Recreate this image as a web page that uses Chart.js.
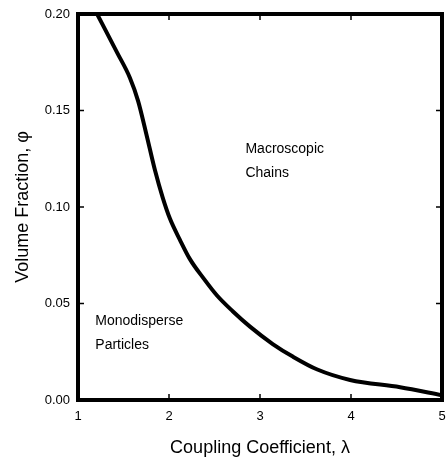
<!DOCTYPE html>
<html lang="en">
<head>
    <meta charset="UTF-8">
    <title>Volume Fraction vs Coupling Coefficient</title>
    <script src="https://cdn.jsdelivr.net/npm/chart.js"></script>
    <style>
        html, body { margin: 0; padding: 0; background: #fff; }
        #wrap { width: 447px; height: 463px; }
    </style>
</head>
<body>
    <div id="wrap"><canvas id="phaseChart"></canvas></div>

    <script>
        // Courbe de transition
        const lambdaValues = [1.21, 1.43, 1.57, 1.66, 1.75, 1.846, 1.93, 2.01, 2.12, 2.23, 2.38, 2.53, 2.70, 2.89, 3.14, 3.36, 3.63, 3.99, 4.54, 5.0];
        const phiValues    = [0.200, 0.180, 0.167, 0.155, 0.138, 0.119, 0.105, 0.094, 0.083, 0.073, 0.063, 0.054, 0.046, 0.038, 0.029, 0.0225, 0.0158, 0.0104, 0.0066, 0.0025];

        const xTicks = [1, 2, 3, 4, 5];
        const yTicks = [0.00, 0.05, 0.10, 0.15, 0.20];

        // Étiquettes des régions : [texte, lambda, phi]
        const regionLabels = [
            [['Macroscopic', 'Chains'], 2.84, 0.130],
            [['Monodisperse', 'Particles'], 1.19, 0.041]
        ];

        const font = 'Liberation Sans, Arial, Helvetica, sans-serif';

        // Cadre épais, petites graduations vers l'intérieur, étiquettes des régions
        const framePlugin = {
            id: 'frame',
            afterDatasetsDraw(chart) {
                const { ctx, chartArea: a, scales: { x, y } } = chart;
                ctx.save();
                ctx.strokeStyle = '#000';
                ctx.lineWidth = 1.5;
                ctx.beginPath();
                xTicks.forEach(v => {
                    const px = x.getPixelForValue(v);
                    ctx.moveTo(px, a.bottom); ctx.lineTo(px, a.bottom - 6);
                    ctx.moveTo(px, a.top); ctx.lineTo(px, a.top + 6);
                });
                yTicks.forEach(v => {
                    const py = y.getPixelForValue(v);
                    ctx.moveTo(a.left, py); ctx.lineTo(a.left + 6, py);
                    ctx.moveTo(a.right, py); ctx.lineTo(a.right - 6, py);
                });
                ctx.stroke();

                ctx.lineWidth = 4;
                ctx.strokeRect(a.left, a.top, a.right - a.left, a.bottom - a.top);

                ctx.fillStyle = '#000';
                ctx.font = '14px ' + font;
                ctx.textAlign = 'left';
                ctx.textBaseline = 'middle';
                regionLabels.forEach(([lines, lx, ly]) => {
                    const px = x.getPixelForValue(lx);
                    const py = y.getPixelForValue(ly);
                    lines.forEach((t, i) => ctx.fillText(t, px, py + i * 24));
                });
                ctx.restore();
            }
        };

        const ctx = document.getElementById('phaseChart').getContext('2d');
        new Chart(ctx, {
            type: 'line',
            data: {
                datasets: [{
                    data: lambdaValues.map((l, i) => ({ x: l, y: phiValues[i] })),
                    borderColor: '#000',
                    borderWidth: 4,
                    pointRadius: 0,
                    fill: false,
                    cubicInterpolationMode: 'monotone'
                }]
            },
            options: {
                responsive: true,
                maintainAspectRatio: false,
                animation: false,
                layout: { padding: { top: 14, right: 5, left: 8, bottom: 0 } },
                plugins: { legend: { display: false }, tooltip: { enabled: false } },
                scales: {
                    x: {
                        type: 'linear',
                        min: 1, max: 5,
                        afterBuildTicks: s => { s.ticks = xTicks.map(v => ({ value: v })); },
                        afterFit: s => { s.height = 63; s.paddingLeft = 0; s.paddingRight = 0; },
                        grid: { display: false, drawTicks: false },
                        border: { display: false },
                        ticks: {
                            color: '#000', padding: 9,
                            font: { family: font, size: 13 },
                            callback: v => String(v)
                        },
                        title: {
                            display: true, text: 'Coupling Coefficient, \u03bb',
                            color: '#000', padding: { top: 13 },
                            font: { family: font, size: 18 }
                        }
                    },
                    y: {
                        type: 'linear',
                        min: 0, max: 0.2,
                        afterBuildTicks: s => { s.ticks = yTicks.map(v => ({ value: v })); },
                        afterFit: s => { s.width = 70; s.paddingTop = 0; s.paddingBottom = 0; },
                        grid: { display: false, drawTicks: false },
                        border: { display: false },
                        ticks: {
                            color: '#000', padding: 8,
                            font: { family: font, size: 13 },
                            callback: v => v.toFixed(2)
                        },
                        title: {
                            display: true, text: 'Volume Fraction, \u03c6',
                            color: '#000', padding: { bottom: 4 },
                            font: { family: font, size: 18 }
                        }
                    }
                }
            },
            plugins: [framePlugin]
        });
    </script>
</body>
</html>
